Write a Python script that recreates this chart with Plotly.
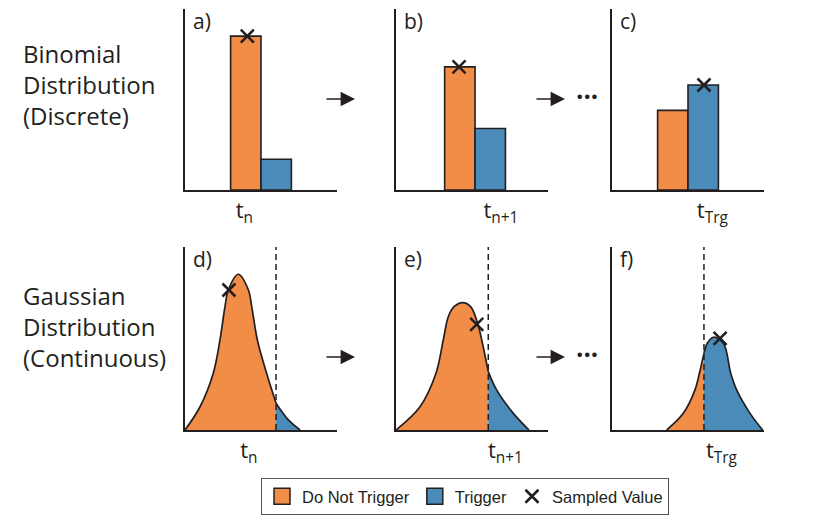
import plotly.graph_objects as go
from plotly.subplots import make_subplots

# ---------------- data ----------------
ORANGE = "#F28D48"
BLUE = "#4A8BB9"
INK = "#231F20"

# binomial panels a), b), c): one "do not trigger" bar and one "trigger" bar each
bin_no_x = [4.0, 4.2, 4.0]
bin_no_h = [8.5, 6.8, 4.4]
bin_tr_x = [6.0, 6.2, 6.0]
bin_tr_h = [1.7, 3.4, 5.8]
bin_sample_x = [4.1, 4.15, 6.05]
bin_sample_y = [8.5, 6.8, 5.8]
bin_tick = [3.9, 6.9, 6.6]

# gaussian panels d), e), f): outline points
d_x = [0.0, 0.99, 1.86, 2.30, 2.63, 2.85, 3.51, 4.17, 4.39, 4.76, 5.37, 5.99, 6.80, 7.57]
d_y = [0.0, 1.27, 3.10, 4.92, 6.74, 7.65, 8.51, 7.65, 6.74, 4.92, 3.10, 1.46, 0.55, 0.0]
e_x = [0.0, 1.58, 2.63, 3.11, 3.44, 3.82, 4.39, 4.91, 5.37, 5.64, 6.07, 6.62, 7.72, 8.75]
e_y = [0.0, 1.27, 3.10, 4.92, 6.19, 6.74, 6.96, 6.74, 5.83, 4.92, 3.19, 2.19, 0.91, 0.0]
f_x = [3.60, 4.69, 5.46, 5.75, 6.05, 6.27, 6.67, 7.33, 7.81, 8.20, 9.08, 9.91]
f_y = [0.0, 0.91, 2.19, 3.10, 4.19, 4.74, 5.07, 4.74, 3.10, 2.19, 0.91, 0.0]
gau_threshold = [5.99, 6.07, 6.05]
gau_sample_x = [2.89, 5.31, 7.11]
gau_sample_y = [7.65, 5.77, 5.01]
gau_tick = [4.2, 7.2, 7.2]

tick_text = ["t<sub>n</sub>", "t<sub>n+1</sub>", "t<sub>Trg</sub>"]
panel_labels = ["a)", "b)", "c)", "d)", "e)", "f)"]
row_titles = ["Binomial<br>Distribution<br>(Discrete)",
              "Gaussian<br>Distribution<br>(Continuous)"]

# ---------------- figure ----------------
# the page body adds an 8px offset, so the figure is 8px smaller and positions are shifted
W, H, OFF = 822, 512, 8


def px(x):
    return (x - OFF) / W


def py(y):
    return 1 - (y - OFF) / H


fig = make_subplots(rows=2, cols=3)

x_domains = [[px(185), px(337)], [px(396), px(548)], [px(612), px(764)]]
y_domains = [[py(190), py(9)], [py(430), py(247)]]

# binomial bars
for i in range(3):
    fig.add_trace(go.Bar(x=[bin_no_x[i]], y=[bin_no_h[i]], width=2,
                         marker=dict(color=ORANGE, line=dict(color=INK, width=1.6)),
                         showlegend=False, hoverinfo="skip"), row=1, col=i + 1)
    fig.add_trace(go.Bar(x=[bin_tr_x[i]], y=[bin_tr_h[i]], width=2,
                         marker=dict(color=BLUE, line=dict(color=INK, width=1.6)),
                         showlegend=False, hoverinfo="skip"), row=1, col=i + 1)
    fig.add_trace(go.Scatter(x=[bin_sample_x[i]], y=[bin_sample_y[i]], mode="markers",
                             marker=dict(symbol="x-thin", size=13,
                                         line=dict(color=INK, width=2.6)),
                             cliponaxis=False, showlegend=False), row=1, col=i + 1)

# gaussian curves, split at the trigger threshold
curves = [(d_x, d_y), (e_x, e_y), (f_x, f_y)]
for i, (cx, cy) in enumerate(curves):
    thr = gau_threshold[i]
    left = [(x, y) for x, y in zip(cx, cy) if x <= thr]
    right = [(x, y) for x, y in zip(cx, cy) if x >= thr]
    for part, col in ((left, ORANGE), (right, BLUE)):
        fig.add_trace(go.Scatter(x=[p[0] for p in part], y=[p[1] for p in part],
                                 mode="lines", line=dict(color=INK, width=1.7, shape="spline",
                                                         smoothing=1.0),
                                 fill="tozeroy", fillcolor=col,
                                 showlegend=False, hoverinfo="skip"), row=2, col=i + 1)
    fig.add_trace(go.Scatter(x=[thr, thr], y=[0, 10], mode="lines",
                             line=dict(color=INK, width=1.5, dash="6px,4px"),
                             showlegend=False, hoverinfo="skip"), row=2, col=i + 1)
    fig.add_trace(go.Scatter(x=[gau_sample_x[i]], y=[gau_sample_y[i]], mode="markers",
                             marker=dict(symbol="x-thin", size=13,
                                         line=dict(color=INK, width=2.6)),
                             cliponaxis=False, showlegend=False), row=2, col=i + 1)

# legend entries
fig.add_trace(go.Scatter(x=[None], y=[None], mode="markers", name="Do Not Trigger",
                         marker=dict(symbol="square", size=16, color=ORANGE,
                                     line=dict(color=INK, width=1.5))), row=1, col=1)
fig.add_trace(go.Scatter(x=[None], y=[None], mode="markers", name="Trigger",
                         marker=dict(symbol="square", size=16, color=BLUE,
                                     line=dict(color=INK, width=1.5))), row=1, col=1)
fig.add_trace(go.Scatter(x=[None], y=[None], mode="markers", name="Sampled Value",
                         marker=dict(symbol="x-thin", size=13,
                                     line=dict(color=INK, width=2.6))), row=1, col=1)

# axes
for r in range(2):
    for c in range(3):
        ticks = bin_tick if r == 0 else gau_tick
        fig.update_xaxes(domain=x_domains[c], range=[0, 10], showline=True,
                         linecolor=INK, linewidth=1.5, showgrid=False, zeroline=False,
                         ticks="", tickvals=[ticks[c]], ticktext=[tick_text[c]],
                         tickfont=dict(family="Open Sans", size=22, color=INK),
                         fixedrange=True, row=r + 1, col=c + 1)
        fig.update_yaxes(domain=y_domains[r], range=[0, 10], showline=True,
                         linecolor=INK, linewidth=1.5, showgrid=False, zeroline=False,
                         showticklabels=False, ticks="", fixedrange=True,
                         row=r + 1, col=c + 1)

# panel labels
for k, lab in enumerate(panel_labels):
    n = "" if k == 0 else str(k + 1)
    fig.add_annotation(text=lab, xref="x%s domain" % n, yref="y%s domain" % n,
                       x=0.04, y=1.02, xanchor="left", yanchor="top", showarrow=False,
                       font=dict(family="Open Sans", size=21, color=INK))

# row titles
for r, ttl in enumerate(row_titles):
    fig.add_annotation(text=ttl, xref="paper", yref="paper", x=px(21),
                       y=[py(84), py(326)][r], xanchor="left", yanchor="middle",
                       align="left", showarrow=False,
                       font=dict(family="Open Sans", size=24, color=INK))

# arrows between panels and ellipsis
for yy in (99, 357):
    for hx in (355, 565):
        fig.add_annotation(text="", xref="paper", yref="paper", x=px(hx), y=py(yy),
                           ax=-30, ay=0, showarrow=True, arrowhead=2, arrowsize=1.8,
                           arrowwidth=1.6, arrowcolor=INK)
    fig.add_annotation(text="<b>···</b>", xref="paper", yref="paper", x=px(587),
                       y=py(yy - 3), xanchor="center", yanchor="middle", showarrow=False,
                       font=dict(family="Open Sans", size=26, color=INK))

fig.update_layout(
    width=W, height=H,
    margin=dict(l=0, r=0, t=0, b=0),
    paper_bgcolor="white", plot_bgcolor="white",
    barmode="overlay",
    legend=dict(orientation="h", x=px(465), xanchor="center", y=py(478),
                yanchor="top", bordercolor="#555555", borderwidth=1,
                font=dict(family="Liberation Sans", size=16.5, color=INK),
                itemsizing="trace"),
)

fig.write_html("out.html")
